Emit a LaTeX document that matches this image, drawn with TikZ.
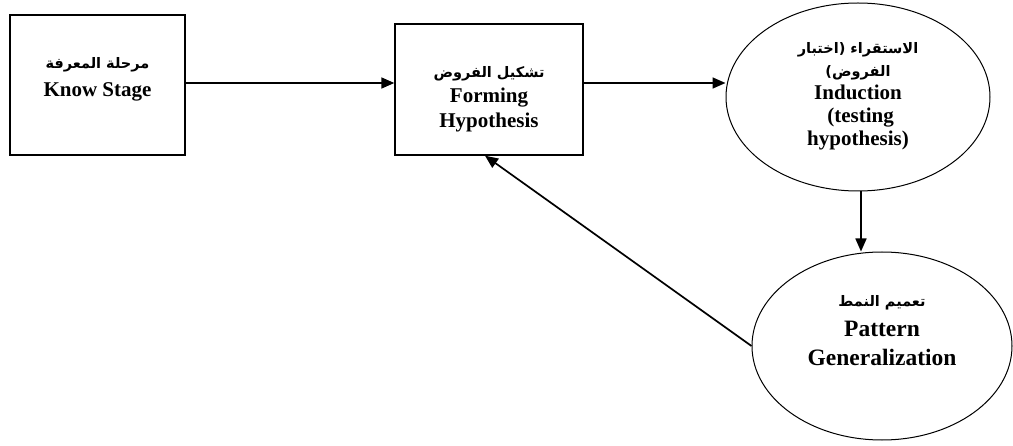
\documentclass[tikz,border=0pt]{standalone}
\usepackage{fontspec}
\setmainfont{Liberation Serif}
\newfontfamily\arabicfont[Script=Arabic]{DejaVu Sans}
\TeXXeTstate=1
\usetikzlibrary{arrows.meta,shapes.geometric}
\begin{document}
\begin{tikzpicture}[x=1pt,y=1pt,
  boxshape/.style={draw,line width=1.4pt,inner sep=0pt},
  ellshape/.style={ellipse,draw,line width=1pt,inner sep=0pt},
  lbl/.style={align=center,font=\bfseries\fontsize{21}{25}\selectfont},
  conn/.style={line width=1.7pt,-{Triangle[length=13pt,width=11pt]}}]
\useasboundingbox (0,0) rectangle (1013,445);
\newcommand{\ar}[1]{{\arabicfont\bfseries\fontsize{14.5}{16}\selectfont\beginR #1\endR}}
% shapes
\node[boxshape,minimum width=175pt,minimum height=140pt] (b1) at (97.5,360) {};
\node[boxshape,minimum width=188pt,minimum height=131pt] (b2) at (489,355.5) {};
\node[ellshape,minimum width=264pt,minimum height=188pt] (e1) at (858,348) {};
\node[ellshape,minimum width=260pt,minimum height=188pt] (e2) at (882,99) {};
% labels
\node[lbl,font=\bfseries\fontsize{21}{28}\selectfont] (t1) at (97.5,366) {\ar{مرحلة المعرفة}\\Know Stage};
\node[lbl] (t2) at (489,346) {\ar{تشكيل الفروض}\\Forming\\Hypothesis};
\node[lbl,font=\bfseries\fontsize{21}{23}\selectfont] (t3) at (858,349) {\ar{الاستقراء (اختبار}\\\ar{الفروض)}\\Induction\\\ (testing\\hypothesis)};
\node[lbl,font=\bfseries\fontsize{23.5}{29.5}\selectfont] (t4) at (882,114) {\ar{تعميم النمط}\\Pattern\\Generalization};
% connectors
\draw[conn] (b1.east |- 0,362) -- (b2.west |- 0,362);
\draw[conn] (b2.east |- 0,362) -- (e1.west |- 0,362);
\draw[conn] ([xshift=3pt]e1.south) -- ([xshift=3pt]e1.south |- e2.north);
\draw[conn] (e2.west) -- ([xshift=-4pt]b2.south);
\end{tikzpicture}
\end{document}
